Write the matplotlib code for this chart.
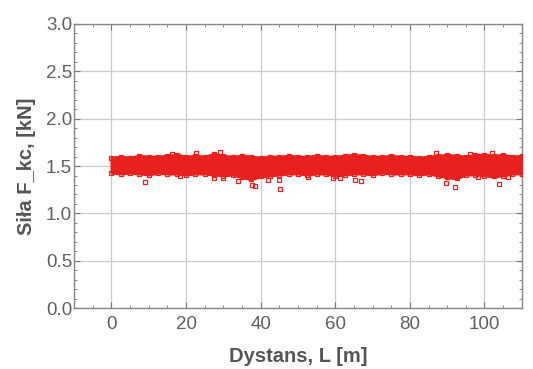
import matplotlib
matplotlib.use("Agg")
import matplotlib.pyplot as plt
from matplotlib.ticker import MultipleLocator

plt.rcParams['font.family'] = ['Liberation Sans', 'DejaVu Sans']

# band envelope (every 2.5 m)
x_env = [0, 2.5, 5, 7.5, 10, 12.5, 15, 17.5, 20, 22.5, 25, 27.5, 30, 32.5, 35,
         37.5, 40, 42.5, 45, 47.5, 50, 52.5, 55, 57.5, 60, 62.5, 65, 67.5, 70,
         72.5, 75, 77.5, 80, 82.5, 85, 87.5, 90, 92.5, 95, 97.5, 100, 102.5,
         105, 107.5, 110]
upper = [1.59, 1.60, 1.59, 1.61, 1.60, 1.60, 1.61, 1.62, 1.60, 1.61, 1.60, 1.63,
         1.61, 1.60, 1.61, 1.60, 1.59, 1.60, 1.60, 1.61, 1.60, 1.60, 1.61, 1.60,
         1.60, 1.61, 1.62, 1.61, 1.60, 1.60, 1.61, 1.60, 1.60, 1.59, 1.60, 1.61,
         1.62, 1.61, 1.60, 1.62, 1.62, 1.61, 1.62, 1.60, 1.61]
lower = [1.43, 1.42, 1.43, 1.42, 1.41, 1.43, 1.42, 1.42, 1.41, 1.42, 1.42, 1.41,
         1.40, 1.41, 1.38, 1.36, 1.39, 1.40, 1.41, 1.42, 1.42, 1.41, 1.42, 1.42,
         1.40, 1.41, 1.42, 1.42, 1.41, 1.43, 1.42, 1.42, 1.42, 1.41, 1.42, 1.40,
         1.38, 1.37, 1.41, 1.41, 1.40, 1.39, 1.40, 1.42, 1.42]

# isolated points outside the band
out_x = [9.1, 18.4, 27.4, 30.0, 34.0, 37.6, 38.5, 42.1, 44.9, 45.2, 52.8, 59.4,
         61.2, 65.2, 67.0, 89.8, 92.0, 98.2, 104.0, 106.4,
         16.2, 22.7, 29.1, 87.1, 96.0, 102.0]
out_y = [1.334, 1.39, 1.37, 1.37, 1.344, 1.30, 1.29, 1.35, 1.35, 1.253, 1.387,
         1.376, 1.376, 1.35, 1.345, 1.317, 1.28, 1.387, 1.31, 1.387,
         1.63, 1.64, 1.65, 1.64, 1.63, 1.64]

red = '#e8211f'
grey = '#555555'

fig = plt.figure(figsize=(5.33, 3.69), dpi=100)
ax = fig.add_axes([0.139, 0.165, 0.840, 0.770])

ax.fill_between(x_env, lower, upper, color=red, ec=red, lw=2.0, zorder=3)
mk = dict(ls='none', marker='s', ms=3.5, mfc='none', mec=red, mew=0.9, zorder=4)
ax.plot(x_env, upper, **mk)
ax.plot(x_env, lower, **mk)
ax.plot(out_x, out_y, **mk)

ax.set_xlim(-10, 110)
ax.set_ylim(0, 3.0)
ax.xaxis.set_major_locator(MultipleLocator(20))
ax.xaxis.set_minor_locator(MultipleLocator(5))
ax.yaxis.set_major_locator(MultipleLocator(0.5))
ax.yaxis.set_minor_locator(MultipleLocator(0.1))
ax.set_yticks([0, 0.5, 1.0, 1.5, 2.0, 2.5, 3.0])
ax.set_yticklabels(['0.0', '0.5', '1.0', '1.5', '2.0', '2.5', '3.0'])

ax.grid(True, which='major', color='#cccccc', lw=0.9, zorder=0)
ax.tick_params(which='both', direction='in', top=True, right=True,
               colors='#777777', labelcolor='#606060', labelsize=13.5)
ax.tick_params(which='major', length=4)
ax.tick_params(which='minor', length=2)
ax.tick_params(axis='x', pad=6)
ax.tick_params(axis='y', pad=1.5)
for s in ax.spines.values():
    s.set_color('#888888')
    s.set_linewidth(1.0)

ax.set_xlabel('Dystans, L [m]', fontsize=14.5, fontweight='bold', color=grey, labelpad=10)
ax.set_ylabel('Siła F_kc, [kN]', fontsize=14.5, fontweight='bold', color=grey, labelpad=7)

fig.savefig('out.png', dpi=100)
